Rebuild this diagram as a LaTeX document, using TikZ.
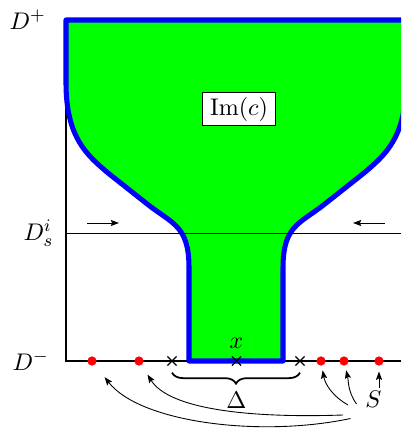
\documentclass[tikz,border=0pt]{standalone}
\usepackage{tikz}
\usetikzlibrary{arrows.meta, positioning, shapes.misc, decorations.pathreplacing}
\tikzstyle{funnel} = [
    fill=green,
    draw=blue,
    line width=2.3pt,
    line join=round
]
\tikzstyle{reddot} = [
    circle,
    fill=red,
    inner sep=0pt,
    minimum size=4.2pt
]
\tikzstyle{crossmark} = [
    cross out,
    draw=black,
    inner sep=0pt,
    minimum size=3.6pt,
    semithick
]
\tikzstyle{axisline} = [thick]
\tikzstyle{arrow} = [->,>={Stealth[length=3.8pt, width=2.8pt, inset=0.7pt]}]

\begin{document}
\begin{tikzpicture}[x=0.4cm, y=0.4cm, font=\fontsize{11}{13}\selectfont]
\useasboundingbox (0,0) rectangle (16.04,17.32);
\clip (0,0) rectangle (16.04,17.32);

\coordinate (topL) at (2.64,16.52);
\coordinate (botL) at (2.64,2.88);
\coordinate (botR) at (16.04,2.88);
\coordinate (midL) at (2.64,8);
\coordinate (midR) at (16.04,8);

\draw [axisline] (topL) -- (botL) -- (botR);

\draw [funnel] (2.64,16.52) -- (16.24,16.52) -- (16.24,14)
    .. controls (16.24,11.8) and (15.38,11.1) .. (14.56,10.4)
    -- (12.98,9.15)
    .. controls (11.98,8.36) and (11.32,8.3) .. (11.32,6.6)
    -- (11.32,2.88) -- (7.56,2.88) -- (7.56,6.6)
    .. controls (7.56,8.3) and (6.9,8.36) .. (5.9,9.15)
    -- (4.32,10.4)
    .. controls (3.5,11.1) and (2.64,11.8) .. (2.64,14) -- cycle;

\draw [thin] (midL) -- (midR);

\node (imc) [draw, fill=white, inner ysep=2pt] at (9.56,12.96) {$\mathrm{Im}(c)$};

\node (dplus) [left=0.2cm of topL] {$D^+$};
\node (dminus) [left=0.15cm of botL] {$D^-$};
\node (dsi) [left=0.08cm of midL] {$D_s^i$};

\coordinate (inL1) at (3.48,8.4);
\coordinate (inL2) at (4.76,8.4);
\coordinate (inR1) at (15.4,8.4);
\coordinate (inR2) at (14.12,8.4);
\draw [arrow] (inL1) -- (inL2);
\draw [arrow] (inR1) -- (inR2);

\node (c1) [crossmark] at (6.88,2.88) {};
\node (c2) [crossmark] at (9.46,2.88) {};
\node (c3) [crossmark] at (12,2.88) {};
\node (xlbl) [above=0pt of c2] {$x$};

\draw [decorate, decoration={brace, mirror, amplitude=5pt}, thick]
    ([yshift=-3.2pt]c1.south) -- ([yshift=-3.2pt]c3.south);
\node (delta) at (9.46,1.3) {$\Delta$};

\node (s1) [reddot] at (3.68,2.88) {};
\node (s2) [reddot] at (5.56,2.88) {};
\node (s3) [reddot] at (12.84,2.88) {};
\node (s4) [reddot] at (13.76,2.88) {};
\node (s5) [reddot] at (15.16,2.88) {};

\node (lblS) [inner sep=0pt] at (14.94,1.36) {$S$};

\draw [arrow, shorten >=7pt] ([shift={(-0.92,-0.78)}]lblS.center)
    to[out=192, in=-52, out looseness=0.9, in looseness=0.72] (s1);
\draw [arrow, shorten >=5pt] ([shift={(-1.22,-0.64)}]lblS.center)
    to[out=182, in=-58, out looseness=1.16, in looseness=0.64] (s2);
\draw [arrow, shorten >=2pt] ([shift={(-1.02,-0.24)}]lblS.center)
    to[out=150, in=-80] (s3);
\draw [arrow, shorten >=2pt] ([shift={(-0.68,-0.2)}]lblS.center)
    to[out=125, in=-77] (s4);
\draw [arrow, shorten >=2.5pt] ([shift={(0.22,0.44)}]lblS.center) -- (s5);

\end{tikzpicture}
\end{document}
